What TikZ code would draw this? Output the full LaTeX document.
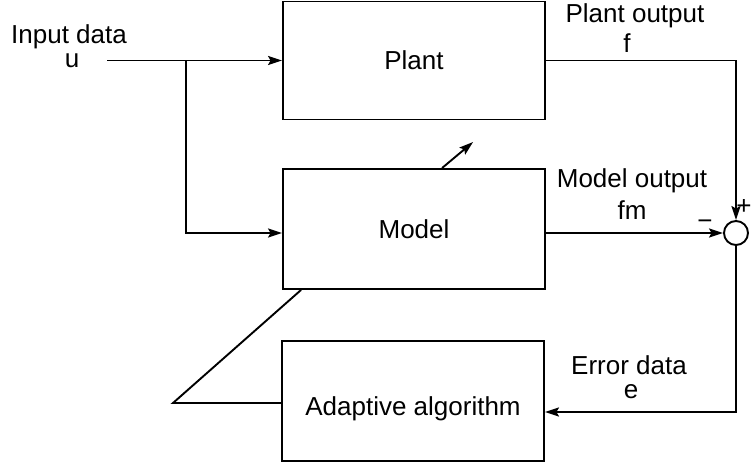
\documentclass[tikz,border=0pt]{standalone}
\usepackage{fontspec}
\setmainfont{Liberation Sans}
\usetikzlibrary{arrows.meta}
\begin{document}
\begin{tikzpicture}[x=1pt,y=-1pt,
  every node/.style={font=\fontsize{26}{30}\selectfont},
  blk/.style={draw, line width=1.9pt, inner sep=0pt, minimum width=262pt, text height=19pt, text depth=0pt},
  wire/.style={line width=1.9pt},
  arr/.style={wire, -{Stealth[length=14pt,width=9pt,inset=2.5pt]}},
  lbl/.style={anchor=base, inner sep=0pt}]
\useasboundingbox (0,0) rectangle (752,468);
% blocks
\node[blk, minimum height=118pt] (plant) at (414,60.5) {Plant};
\node[blk, minimum height=120pt] (model) at (414,229) {Model};
\node[blk, minimum height=120pt, text height=28pt] (adapt) at (413,401) {Adaptive algorithm};
\node[circle, draw, line width=1.9pt, minimum size=24pt, inner sep=0pt] (sum) at (736,233) {};
% helper coordinates
\coordinate (in) at (107,60.5);
\coordinate (br) at (186,60.5);
\coordinate (ecorner) at (736,412);
\coordinate (kink) at (173,403);
% connectors
\draw[arr] (in) -- (plant.west);
\draw[arr] (br) |- (model.west |- sum);
\draw[arr] (model.east |- sum) -- (sum.west);
\draw[arr] (plant.east) -| (sum.north);
\draw[arr] (sum.south) -- (ecorner) -- (adapt.east |- ecorner);
\draw[wire] ([xshift=19pt]model.south west) -- (kink) -- (adapt.west |- kink);
\draw[arr] ([xshift=160pt]model.north west) -- ++(31,-26);
% labels
\node[lbl] (inlbl) at (69,44) {Input data};
\node[lbl] (ulbl) at (72,68) {u};
\node[lbl] (plbl) at (635,23) {Plant output};
\node[lbl] (flbl) at (627,53) {f};
\node[lbl] (mlbl) at (632,187) {Model output};
\node[lbl] (fmlbl) at (632,219) {fm};
\node[lbl] (erlbl) at (629,374) {Error data};
\node[lbl] (elbl) at (631,398) {e};
\node[lbl] (plus) at (744,214) {+};
\node[lbl] (minus) at (705,229) {−};
\end{tikzpicture}
\end{document}
